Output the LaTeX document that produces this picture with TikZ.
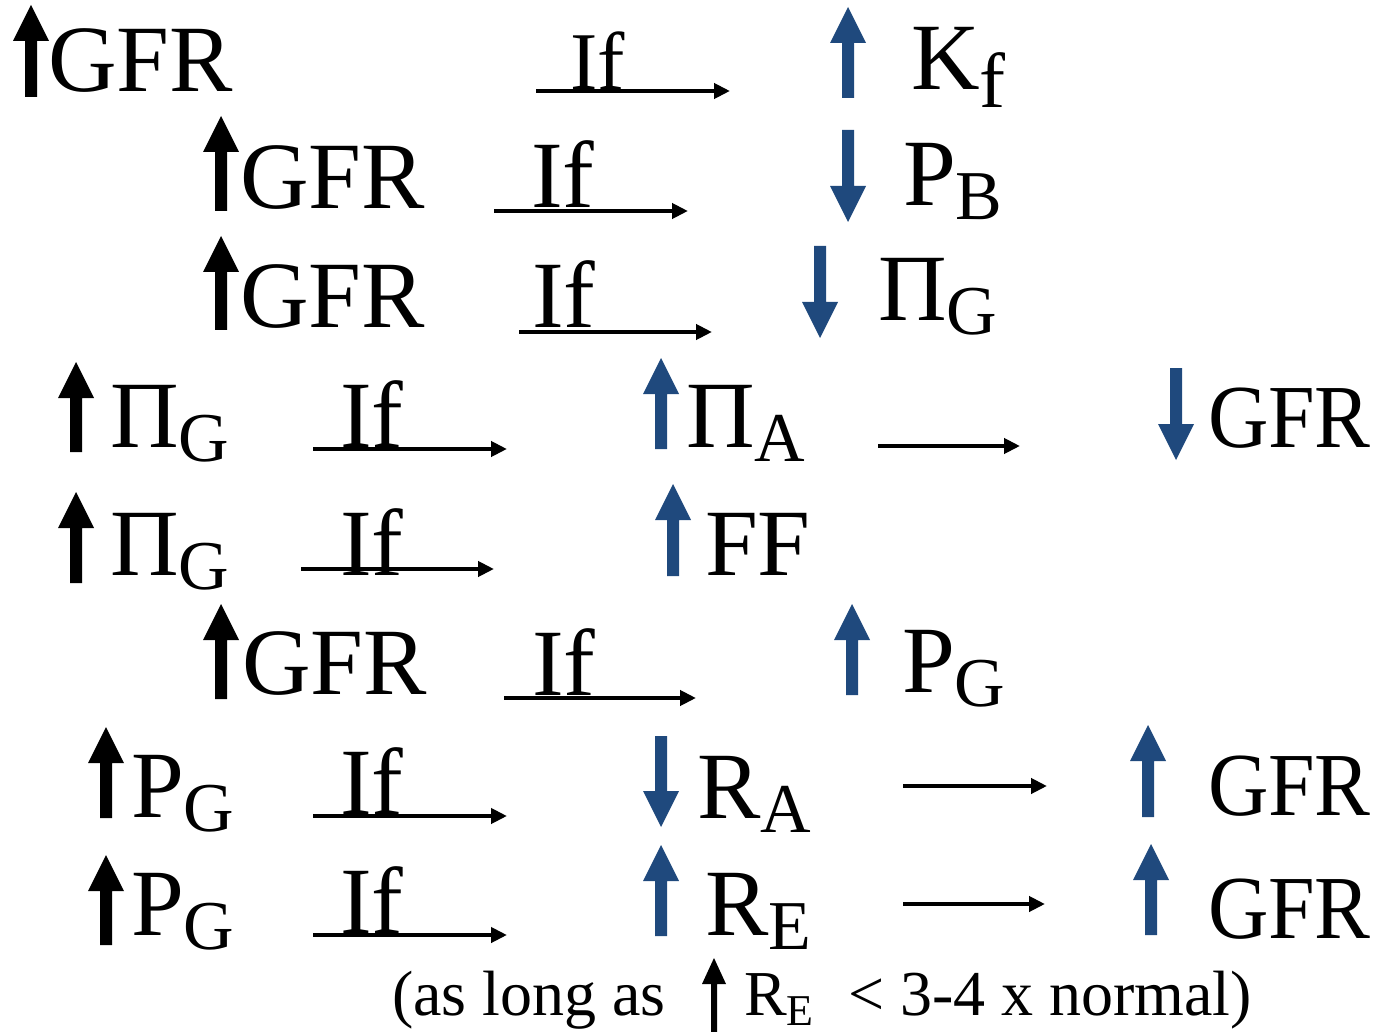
\documentclass[tikz,border=0pt]{standalone}
\usepackage{fontspec}
\setmainfont{Liberation Serif}
\usetikzlibrary{arrows.meta}
\definecolor{arrowblue}{HTML}{1F497D}
% subscripts set below the baseline
\newcommand\lowsub[1]{\raisebox{-14pt}{\fontsize{70pt}{70pt}\selectfont #1}}
\newcommand\lowsubf[1]{\raisebox{-18pt}{\fontsize{78pt}{78pt}\selectfont #1}}
% block arrows: centre x, top y, bottom y, colour
\newcommand\blkup[4]{\fill[#4] (#1-6,#3) -- (#1-6,#2+36) -- (#1-18,#2+36) -- (#1,#2) -- (#1+18,#2+36) -- (#1+6,#2+36) -- (#1+6,#3) -- cycle;}
\newcommand\blkdown[4]{\fill[#4] (#1-6,#2) -- (#1-6,#3-36) -- (#1-18,#3-36) -- (#1,#3) -- (#1+18,#3-36) -- (#1+6,#3-36) -- (#1+6,#2) -- cycle;}
\begin{document}
\begin{tikzpicture}[x=1pt,y=-1pt,
  txt/.style={anchor=base west,inner sep=0pt,outer sep=0pt,font=\fontsize{95pt}{95pt}\selectfont},
  rtxt/.style={anchor=base west,inner sep=0pt,outer sep=0pt,font=\fontsize{90pt}{90pt}\selectfont,xscale=0.93},
  iftxt/.style={anchor=base west,inner sep=0pt,outer sep=0pt,font=\fontsize{95pt}{95pt}\selectfont},
  note/.style={anchor=base west,inner sep=0pt,outer sep=0pt,font=\fontsize{64pt}{64pt}\selectfont},
  conn/.style={line width=4pt,-{Triangle[length=16pt,width=15pt]}}]
\useasboundingbox (0,0) rectangle (1379,1032);

% row 1
\blkup{31}{5}{97}{black}
\node[txt] (g1) at (48,92) {GFR};
\node[iftxt,font=\fontsize{82pt}{82pt}\selectfont] (if1) at (570,90) {If};
\coordinate (a1s) at (536,91); \coordinate (a1e) at (730,91);
\draw[conn] (a1s) -- (a1e);
\blkup{848}{7}{98}{arrowblue}
\node[txt] (kf) at (911,90) {K\lowsubf{f}};

% row 2
\blkup{221}{116}{211}{black}
\node[txt] (g2) at (240,209) {GFR};
\node[iftxt] (if2) at (531,208) {If};
\coordinate (a2s) at (494,211); \coordinate (a2e) at (688,211);
\draw[conn] (a2s) -- (a2e);
\blkdown{848}{130}{222}{arrowblue}
\node[txt] (pb) at (903,206) {P\lowsub{B}};

% row 3
\blkup{221}{236}{330}{black}
\node[txt] (g3) at (240,327) {GFR};
\node[iftxt] (if3) at (532,328) {If};
\coordinate (a3s) at (519,332); \coordinate (a3e) at (712,332);
\draw[conn] (a3s) -- (a3e);
\blkdown{820}{246}{338}{arrowblue}
\node[txt] (pig3) at (878,320) {Π\lowsub{G}};

% row 4
\blkup{76}{362}{452}{black}
\node[txt] (pig4) at (110,447) {Π\lowsub{G}};
\node[iftxt] (if4) at (340,447) {If};
\coordinate (a4s) at (313,449); \coordinate (a4e) at (507,449);
\draw[conn] (a4s) -- (a4e);
\blkup{661}{358}{449}{arrowblue}
\node[txt] (pia) at (686,447) {Π\lowsub{A}};
\coordinate (b4s) at (878,446); \coordinate (b4e) at (1020,446);
\draw[conn] (b4s) -- (b4e);
\blkdown{1176}{368}{460}{arrowblue}
\node[rtxt] (g4) at (1208,447) {GFR};

% row 5
\blkup{76}{492}{583}{black}
\node[txt] (pig5) at (110,575) {Π\lowsub{G}};
\node[iftxt] (if5) at (340,575) {If};
\coordinate (a5s) at (301,569); \coordinate (a5e) at (494,569);
\draw[conn] (a5s) -- (a5e);
\blkup{673}{484}{576}{arrowblue}
\node[txt] (ff) at (705,575) {FF};

% row 6
\blkup{221}{604}{699}{black}
\node[txt] (g6) at (242,694) {GFR};
\node[iftxt] (if6) at (532,695) {If};
\coordinate (a6s) at (504,698); \coordinate (a6e) at (696,698);
\draw[conn] (a6s) -- (a6e);
\blkup{852}{604}{695}{arrowblue}
\node[txt] (pg6) at (902,692) {P\lowsub{G}};

% row 7
\blkup{106}{727}{818}{black}
\node[txt] (pg7) at (131,817) {P\lowsub{G}};
\node[iftxt] (if7) at (340,814) {If};
\coordinate (a7s) at (313,816); \coordinate (a7e) at (507,816);
\draw[conn] (a7s) -- (a7e);
\blkdown{661}{736}{827}{arrowblue}
\node[txt] (ra) at (697,818) {R\lowsub{A}};
\coordinate (b7s) at (903,786); \coordinate (b7e) at (1047,786);
\draw[conn] (b7s) -- (b7e);
\blkup{1148}{725}{817}{arrowblue}
\node[rtxt] (g7) at (1208,815) {GFR};

% row 8
\blkup{106}{855}{945}{black}
\node[txt] (pg8) at (131,935) {P\lowsub{G}};
\node[iftxt] (if8) at (340,933) {If};
\coordinate (a8s) at (313,935); \coordinate (a8e) at (507,935);
\draw[conn] (a8s) -- (a8e);
\blkup{661}{845}{936}{arrowblue}
\node[txt] (re) at (705,935) {R\lowsub{E}};
\coordinate (b8s) at (903,904); \coordinate (b8e) at (1045,904);
\draw[conn] (b8s) -- (b8e);
\blkup{1151}{844}{935}{arrowblue}
\node[rtxt] (g8) at (1208,938) {GFR};

% footnote line
\node[note] (n1) at (392,1015) {(as long as};
\fill[black] (711,1032) -- (711,984) -- (702,984) -- (714,958) -- (726,984) -- (717,984) -- (717,1032) -- cycle;
\node[note] (n2) at (744,1015) {R\raisebox{-10pt}{\fontsize{44pt}{44pt}\selectfont E}};
\node[note] (n3) at (848,1015) {< 3-4 x normal)};
\end{tikzpicture}
\end{document}
